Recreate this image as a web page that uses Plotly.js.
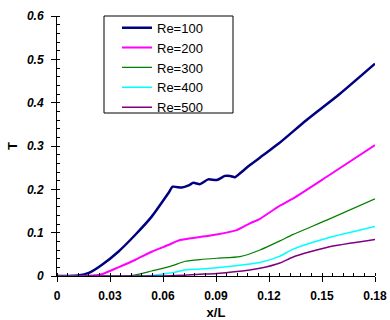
<!DOCTYPE html>
<html><head><meta charset="utf-8">
<script src="https://cdn.plot.ly/plotly-3.0.1.min.js"></script>
<style>html,body{margin:0;padding:0;background:#fff;}#chart{width:390px;height:320px;}</style>
</head><body><div id="chart"></div>
<script>
const seriesNames = ["Re=100","Re=200","Re=300","Re=400","Re=500"];
const x100 = [0,0.006,0.012,0.018,0.0253,0.0347,0.0442,0.0536,0.063,0.0655,0.0706,0.0745,0.0772,0.081,0.0856,0.0904,0.0951,0.098,0.1008,0.1036,0.1092,0.1168,0.1253,0.1413,0.16,0.18];
const y100 = [0,0,0.001,0.007,0.0254,0.056,0.0946,0.137,0.191,0.206,0.204,0.209,0.215,0.212,0.223,0.2215,0.231,0.231,0.228,0.237,0.256,0.279,0.305,0.36,0.42,0.49];
const x200 = [0,0.012,0.02,0.0253,0.0347,0.0442,0.0536,0.063,0.0696,0.081,0.0904,0.1017,0.1092,0.1149,0.1253,0.1337,0.1527,0.18];
const y200 = [0,0,0.001,0.004,0.02,0.037,0.056,0.0715,0.083,0.09,0.096,0.106,0.1215,0.132,0.16,0.179,0.229,0.302];
const x300 = [0,0.036,0.044,0.0536,0.063,0.0696,0.0725,0.081,0.0904,0.1036,0.1149,0.1262,0.1337,0.1527,0.18];
const y300 = [0,0,0.0023,0.0115,0.021,0.03,0.034,0.038,0.041,0.0446,0.06,0.081,0.096,0.129,0.178];
const x400 = [0,0.05,0.0527,0.0658,0.0715,0.081,0.0904,0.1092,0.1149,0.1262,0.1337,0.1527,0.18];
const y400 = [0,0,0.001,0.008,0.0135,0.016,0.019,0.0277,0.031,0.046,0.062,0.087,0.114];
const x500 = [0,0.057,0.0715,0.081,0.0904,0.1092,0.1149,0.1262,0.1337,0.1527,0.18];
const y500 = [0,0,0.002,0.004,0.006,0.0138,0.0177,0.03,0.044,0.066,0.084];
const xTickVals = [0,0.03,0.06,0.09,0.12,0.15,0.18];
const xTickText = ["0","0.03","0.06","0.09","0.12","0.15","0.18"];
const yTickVals = [0,0.1,0.2,0.3,0.4,0.5,0.6];
const yTickText = ["0","0.1","0.2","0.3","0.4","0.5","0.6"];

const colors = ["#000080","#ff00ff","#008000","#00ffff","#800080"];
const widths = [2.5,2,1.2,1.5,1.5];
const xs = [x100,x200,x300,x400,x500];
const ys = [y100,y200,y300,y400,y500];
const traces = seriesNames.map((n,i)=>({
  x: xs[i], y: ys[i], name: n, type:'scatter', mode:'lines',
  line:{color:colors[i], width:widths[i], shape:'spline', smoothing:0.6}
}));
const F = 'Liberation Sans, Arial, sans-serif';
const layout = {
  width:390, height:320,
  margin:{l:57, r:15, t:16, b:44},
  paper_bgcolor:'#fff', plot_bgcolor:'#fff',
  font:{family:F, color:'#000'},
  showlegend:true,
  legend:{x:(117-57)/318, xanchor:'left', y:(276-12.7)/260, yanchor:'top',
    bgcolor:'rgba(0,0,0,0)', borderwidth:0, font:{family:F, size:13, color:'#000'}},
  shapes:[{type:'rect', xref:'paper', yref:'paper', x0:(104-57)/318, x1:(233-57)/318,
    y0:(276-113)/260, y1:(276-16)/260, line:{color:'#000', width:1}, fillcolor:'#fff', layer:'below'}],
  xaxis:{range:[0,0.18], tickmode:'array', tickvals:xTickVals, ticktext:xTickText,
    showgrid:false, zeroline:false, showline:true, linecolor:'#000', linewidth:1,
    ticks:'outside', ticklen:5, tickcolor:'#000', ticklabelstandoff:4,
    minor:{tickmode:'linear', tick0:0, dtick:0.006, ticks:'inside', ticklen:3, tickcolor:'#000', showgrid:false},
    tickfont:{family:F, size:12, weight:700, color:'#000'},
    title:{text:'x/L', font:{family:F, size:13, weight:700, color:'#000'}, standoff:6}},
  yaxis:{range:[0,0.6], tickmode:'array', tickvals:yTickVals, ticktext:yTickText,
    showgrid:false, zeroline:false, showline:true, linecolor:'#000', linewidth:1,
    ticks:'outside', ticklen:5, tickcolor:'#000', ticklabelstandoff:5,
    minor:{tickmode:'linear', tick0:0, dtick:0.02, ticks:'inside', ticklen:3, tickcolor:'#000', showgrid:false},
    tickfont:{family:F, size:12, weight:700, style:'italic', color:'#000'},
    title:{text:'T', font:{family:F, size:13, weight:700, color:'#000'}, standoff:6}}
};
Plotly.newPlot('chart', traces, layout, {displayModeBar:false, staticPlot:true});
</script></body></html>
